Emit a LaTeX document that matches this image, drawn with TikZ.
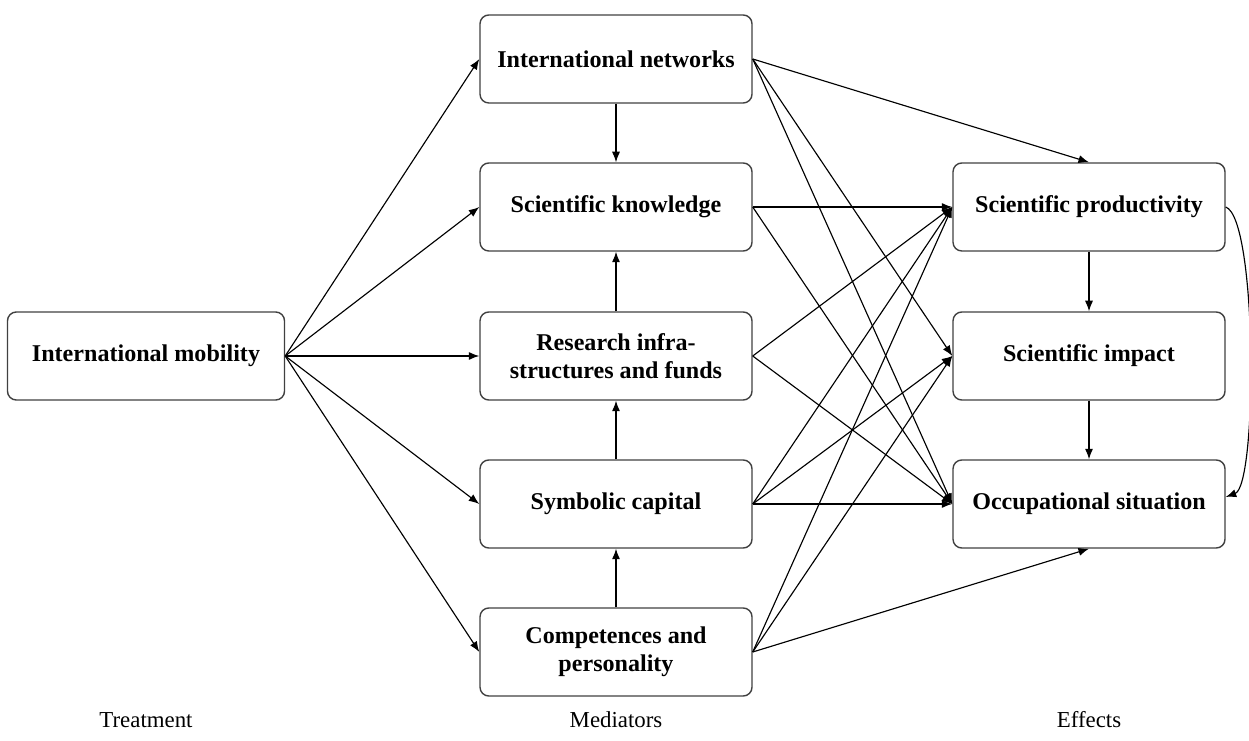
\documentclass[tikz,border=0pt]{standalone}
\usepackage{fontspec}
\setmainfont{Liberation Serif}
\usetikzlibrary{arrows.meta}

\tikzset{
  box/.style={draw=black!75,line width=0.8pt,rounded corners=5pt,align=center,
    minimum width=5.44cm,minimum height=1.76cm,
    font=\fontsize{13.7}{16}\selectfont\bfseries},
  lbl/.style={font=\fontsize{13}{15}\selectfont},
}

\begin{document}
\begin{tikzpicture}[>={Latex[length=6pt,width=4.6pt]},line width=0.65pt]
      \useasboundingbox (0,0) rectangle (24.98,-14.82);
      % treatment
      \node[box,minimum width=5.54cm] (mob) at (2.92,-7.12) {International mobility};
      % mediators
      \node[box] (net) at (12.32,-1.18) {International networks};
      \node[box] (know) at (12.32,-4.14) {Scientific knowledge};
      \node[box] (infra) at (12.32,-7.12) {Research infra-\\structures and funds};
      \node[box] (symb) at (12.32,-10.08) {Symbolic capital};
      \node[box] (comp) at (12.32,-13.04) {Competences and\\personality};
      % effects
      \node[box] (prod) at (21.78,-4.14) {Scientific productivity};
      \node[box] (impact) at (21.78,-7.12) {Scientific impact};
      \node[box] (occ) at (21.78,-10.08) {Occupational situation};
      \node[lbl] (ltreat) at (2.92,-14.4) {Treatment};
      \node[lbl] (lmed) at (12.32,-14.4) {Mediators};
      \node[lbl] (leff) at (21.78,-14.4) {Effects};
      % mobility to mediators
      \foreach \m in {net,know,infra,symb,comp}
        \draw[->] (mob.east) -- (\m.west);
      \draw[->] (net) -- (know);
      \draw[->] (infra) -- (know);
      \draw[->] (symb) -- (infra);
      \draw[->] (comp) -- (symb);
      % mediators to effects
      \draw[->] (net.east) -- (prod.north);
      \draw[->] (net.east) -- (impact.west);
      \draw[->] (net.east) -- (occ.west);
      \draw[->] (know.east) -- (prod.west);
      \draw[->] (know.east) -- (occ.west);
      \draw[->] (infra.east) -- (prod.west);
      \draw[->] (infra.east) -- (occ.west);
      \draw[->] (symb.east) -- (prod.west);
      \draw[->] (symb.east) -- (impact.west);
      \draw[->] (symb.east) -- (occ.west);
      \draw[->] (comp.east) -- (prod.west);
      \draw[->] (comp.east) -- (impact.west);
      \draw[->] (comp.east) -- (occ.south);
      % between effects
      \draw[->] (prod) -- (impact);
      \draw[->] (impact) -- (occ);
      \draw[->] (prod.east) to[out=-20,in=20,looseness=0.3] ([yshift=4pt]occ.east);
    \end{tikzpicture}
\end{document}
